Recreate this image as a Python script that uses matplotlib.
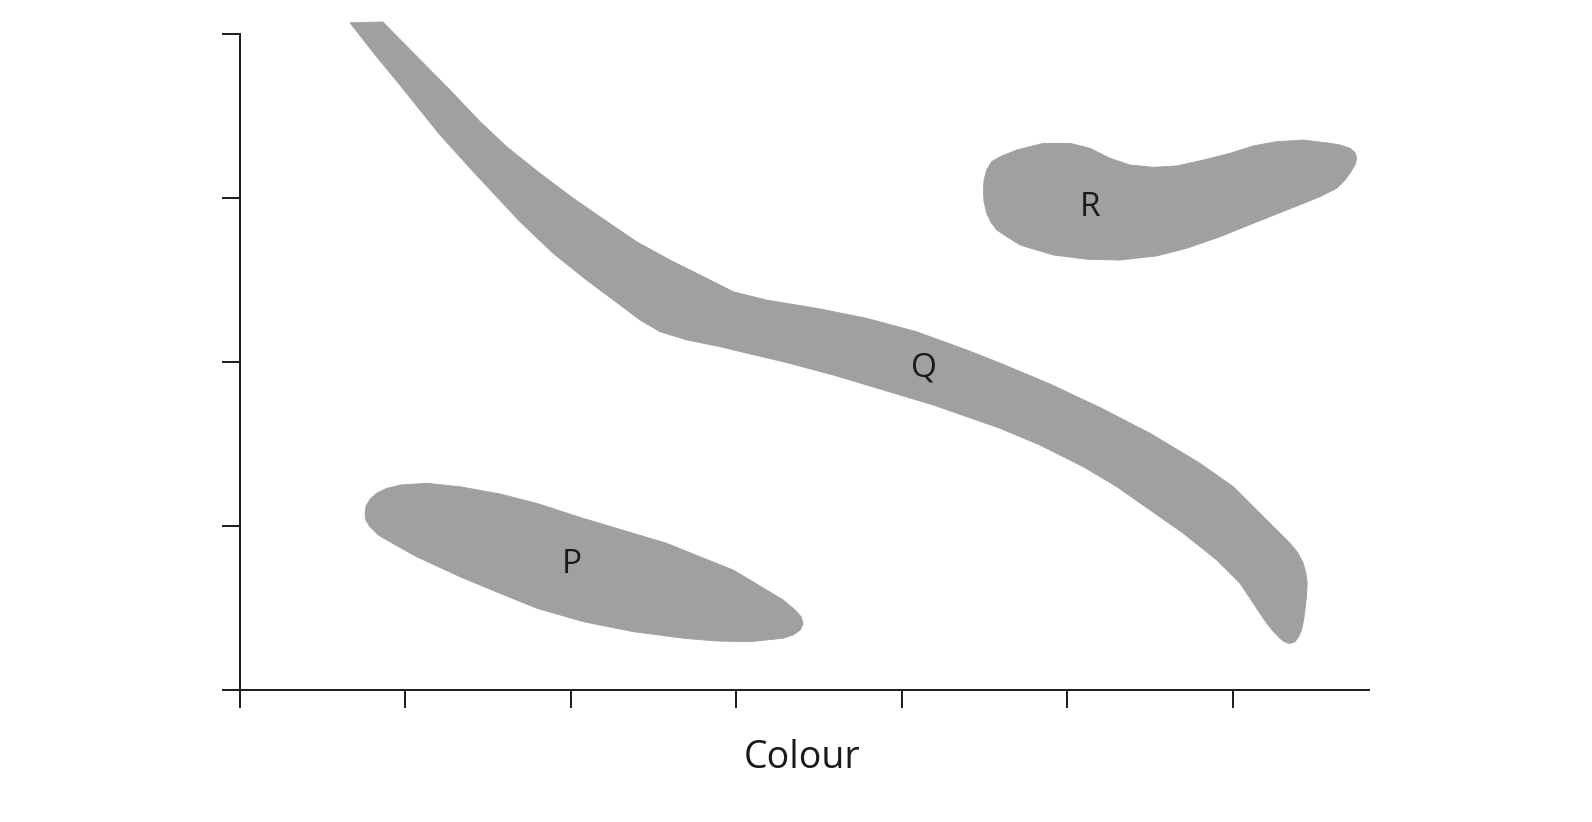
import matplotlib
matplotlib.use('Agg')
import matplotlib.pyplot as plt

# Contornos das regiões (unidades dos eixos: 1 = um intervalo entre ticks)
p_x = [0.762, 0.758, 0.764, 0.788, 0.828, 0.889, 0.969, 1.131, 1.332, 1.573, 1.795, 2.077, 2.379,
       2.581, 2.782, 2.983, 3.185, 3.285, 3.357, 3.393, 3.405, 3.387, 3.345, 3.285, 3.084, 2.883,
       2.681, 2.379, 2.077, 1.795, 1.573, 1.332, 1.070, 0.889, 0.838, 0.788]
p_y = [1.039, 1.080, 1.124, 1.165, 1.202, 1.232, 1.252, 1.263, 1.242, 1.198, 1.141, 1.049, 0.958,
       0.897, 0.815, 0.734, 0.612, 0.551, 0.490, 0.448, 0.405, 0.368, 0.338, 0.318, 0.297, 0.301,
       0.318, 0.358, 0.419, 0.501, 0.592, 0.693, 0.815, 0.917, 0.948, 0.998]

q_x = [0.667, 0.865, 1.271, 1.453, 1.614, 1.815, 2.016, 2.198, 2.399, 2.601, 2.802, 2.983,
       3.185, 3.487, 3.789, 4.091, 4.393, 4.595, 4.897, 5.199, 5.501, 5.803, 6.004, 6.206, 6.347,
       6.395, 6.427, 6.443, 6.451, 6.446, 6.437, 6.429, 6.417, 6.398, 6.377, 6.357, 6.337, 6.311,
       6.286, 6.244, 6.206, 6.125, 6.045, 5.904, 5.702, 5.501, 5.300, 5.098, 4.836, 4.595, 4.393,
       4.192, 3.889, 3.587, 3.285, 2.983, 2.903, 2.702, 2.540, 2.419, 2.299, 2.097, 1.895, 1.694,
       1.412, 1.211, 0.969, 0.828]
q_y = [4.071, 4.076, 3.661, 3.468, 3.315, 3.153, 3.001, 2.874, 2.736, 2.624, 2.523, 2.431,
       2.380, 2.330, 2.269, 2.187, 2.076, 1.996, 1.868, 1.725, 1.568, 1.385, 1.242, 1.039, 0.897,
       0.838, 0.775, 0.716, 0.653, 0.570, 0.490, 0.429, 0.368, 0.326, 0.297, 0.289, 0.287, 0.298,
       0.318, 0.362, 0.409, 0.531, 0.653, 0.795, 0.958, 1.100, 1.242, 1.364, 1.496, 1.598, 1.669,
       1.740, 1.832, 1.923, 2.004, 2.076, 2.096, 2.137, 2.187, 2.259, 2.350, 2.502, 2.665, 2.858,
       3.163, 3.387, 3.691, 3.864]

r_x = [4.494, 4.498, 4.514, 4.544, 4.595, 4.695, 4.856, 5.018, 5.138, 5.259, 5.380, 5.521, 5.662,
       5.823, 5.984, 6.125, 6.266, 6.427, 6.589, 6.649, 6.709, 6.740, 6.750, 6.740, 6.709, 6.679,
       6.629, 6.528, 6.327, 6.125, 5.924, 5.723, 5.541, 5.320, 5.118, 4.917, 4.715, 4.575, 4.538,
       4.514, 4.498]
r_y = [3.051, 3.112, 3.173, 3.224, 3.254, 3.295, 3.336, 3.336, 3.306, 3.245, 3.204, 3.190, 3.198,
       3.234, 3.275, 3.320, 3.346, 3.356, 3.336, 3.326, 3.306, 3.279, 3.245, 3.204, 3.153, 3.112,
       3.062, 3.010, 2.929, 2.848, 2.766, 2.696, 2.649, 2.624, 2.629, 2.655, 2.716, 2.807, 2.858,
       2.909, 2.980]

rotulos = ['P', 'Q', 'R']
rotulos_x = [2.008, 4.135, 5.141]
rotulos_y = [0.765, 1.966, 2.946]

x_ticks = [0, 1, 2, 3, 4, 5, 6]
y_ticks = [0, 1, 2, 3, 4]

COR_REGIAO = '#a0a09f'
COR_TINTA = '#1a1a1a'
plt.rcParams['font.family'] = ['Open Sans', 'DejaVu Sans']

fig = plt.figure(figsize=(15.92, 8.22), dpi=100)
ax = fig.add_axes([0.1505, 0.1601, 0.7092, 0.8140])

for xs, ys in [(p_x, p_y), (q_x, q_y), (r_x, r_y)]:
    ax.fill(xs, ys, facecolor=COR_REGIAO, edgecolor=COR_REGIAO, linewidth=0.6,
            joinstyle='round', antialiased=True)

for nome, lx, ly in zip(rotulos, rotulos_x, rotulos_y):
    ax.text(lx, ly, nome, fontsize=24, color=COR_TINTA, ha='center', va='center')

ax.set_xlim(0, 6.822)
ax.set_ylim(0, 4.08)
ax.set_xticks(x_ticks)
ax.set_yticks(y_ticks)
ax.set_xticklabels([])
ax.set_yticklabels([])
ax.tick_params(direction='out', length=13, width=1.4, colors=COR_TINTA)

for lado in ['top', 'right']:
    ax.spines[lado].set_visible(False)
for lado in ['left', 'bottom']:
    ax.spines[lado].set_linewidth(1.4)
    ax.spines[lado].set_color(COR_TINTA)
ax.spines['left'].set_bounds(0, 4)

ax.set_xlabel('Colour', fontsize=27, color=COR_TINTA, va='baseline')
ax.xaxis.set_label_coords(3.398 / 6.822, -77.9 / 669.1)

fig.savefig('out.png', dpi=100, facecolor='white')
plt.close(fig)
